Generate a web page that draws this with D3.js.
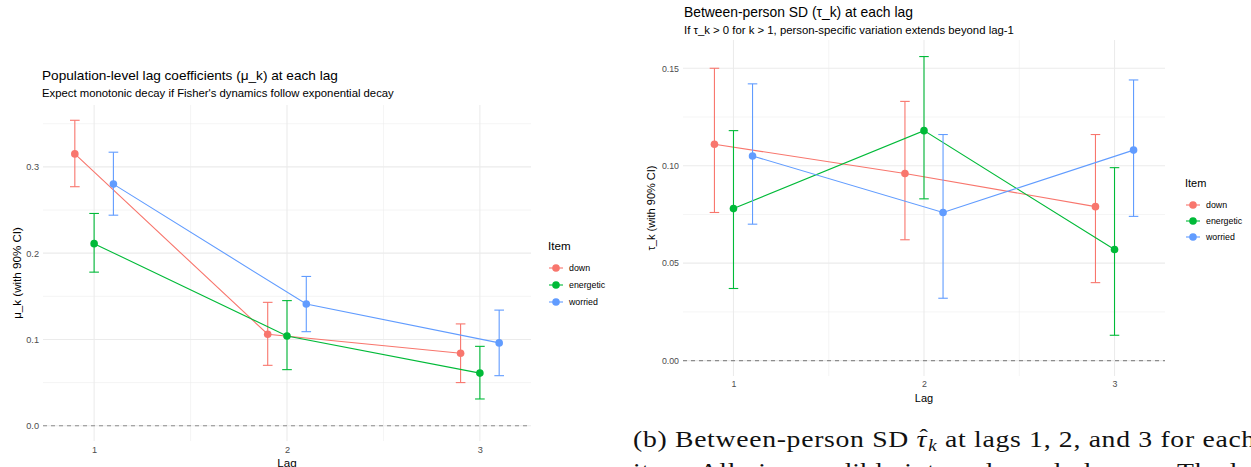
<!DOCTYPE html>
<html>
<head>
<meta charset="utf-8">
<script src="https://cdn.jsdelivr.net/npm/d3@7"></script>
<style>
  html, body { margin: 0; padding: 0; background: #fff; }
  svg { display: block; }
  text { font-family: "Liberation Sans", Arial, sans-serif; }
</style>
</head>
<body>
<svg id="chart" width="1251" height="467"></svg>
<script>
// ---------------- DATA ----------------
const lags = [1, 2, 3];
const items = ["down", "energetic", "worried"];
const itemColors = ["#F8766D", "#00BA38", "#619CFF"];
const itemDodge = [-0.1, 0, 0.1];

// Panel (a): population-level lag coefficients mu_k  (rows = items, cols = lags)
const muMid = [[0.315, 0.106, 0.084], [0.211, 0.104, 0.061], [0.280, 0.141, 0.096]];
const muLo  = [[0.277, 0.070, 0.050], [0.178, 0.065, 0.031], [0.244, 0.109, 0.058]];
const muHi  = [[0.354, 0.143, 0.118], [0.246, 0.145, 0.092], [0.317, 0.173, 0.134]];
const muTicks = [0.0, 0.1, 0.2, 0.3];
const muMinor = [0.05, 0.15, 0.25, 0.35];

// Panel (b): between-person SD tau_k
const tauMid = [[0.111, 0.096, 0.079], [0.078, 0.118, 0.057], [0.105, 0.076, 0.108]];
const tauLo  = [[0.076, 0.062, 0.040], [0.037, 0.083, 0.013], [0.070, 0.032, 0.074]];
const tauHi  = [[0.150, 0.133, 0.116], [0.118, 0.156, 0.099], [0.142, 0.116, 0.144]];
const tauTicks = [0.00, 0.05, 0.10, 0.15];
const tauMinor = [0.025, 0.075, 0.125];

const lagMinor = [1.5, 2.5];

// ---------------- DRAW ----------------
const svg = d3.select("#chart");

// scale a text's font size so it spans a target width
function fitWidth(sel, target) {
  const w = sel.node().getComputedTextLength();
  const fs = parseFloat(sel.style("font-size"));
  if (w > 0) sel.style("font-size", (fs * target / w).toFixed(2) + "px");
}

function panel(cfg) {
  const g = svg.append("g");
  const x = d3.scaleLinear().domain([0.735, 3.265]).range([cfg.left, cfg.right]);
  const y = d3.scaleLinear().domain(cfg.yDomain).range([cfg.bottom, cfg.top]);

  // grid
  g.selectAll(".hminor").data(cfg.minor).enter().append("line")
    .attr("x1", cfg.left).attr("x2", cfg.right)
    .attr("y1", d => y(d)).attr("y2", d => y(d))
    .attr("stroke", "#EBEBEB").attr("stroke-width", 0.55);
  g.selectAll(".vminor").data(lagMinor).enter().append("line")
    .attr("x1", d => x(d)).attr("x2", d => x(d))
    .attr("y1", cfg.top).attr("y2", cfg.bottom)
    .attr("stroke", "#EBEBEB").attr("stroke-width", 0.55);
  g.selectAll(".hmajor").data(cfg.ticks).enter().append("line")
    .attr("x1", cfg.left).attr("x2", cfg.right)
    .attr("y1", d => y(d)).attr("y2", d => y(d))
    .attr("stroke", "#EBEBEB").attr("stroke-width", 1.07);
  g.selectAll(".vmajor").data(lags).enter().append("line")
    .attr("x1", d => x(d)).attr("x2", d => x(d))
    .attr("y1", cfg.top).attr("y2", cfg.bottom)
    .attr("stroke", "#EBEBEB").attr("stroke-width", 1.07);

  // zero dashed line
  g.append("line")
    .attr("x1", cfg.left).attr("x2", cfg.right)
    .attr("y1", y(0)).attr("y2", y(0))
    .attr("stroke", "#8C8C8C").attr("stroke-width", 1.07)
    .attr("stroke-dasharray", "4,4");

  // axes (text only, theme_minimal)
  const yAxis = d3.axisLeft(y).tickValues(cfg.ticks).tickFormat(cfg.fmt).tickSize(0).tickPadding(4);
  const ya = g.append("g").attr("transform", `translate(${cfg.left},0)`).call(yAxis);
  ya.select(".domain").remove();
  ya.selectAll("text").attr("fill", "#4D4D4D").style("font-size", cfg.tickFs + "px")
    .style("font-family", '"Liberation Sans", Arial, sans-serif');

  const xAxis = d3.axisBottom(x).tickValues(lags).tickFormat(d3.format("d")).tickSize(0).tickPadding(5);
  const xa = g.append("g").attr("transform", `translate(0,${cfg.bottom})`).call(xAxis);
  xa.select(".domain").remove();
  xa.selectAll("text").attr("fill", "#4D4D4D").style("font-size", cfg.tickFs + "px")
    .style("font-family", '"Liberation Sans", Arial, sans-serif');

  // series
  items.forEach((it, i) => {
    const col = itemColors[i];
    const pts = lags.map((l, j) => ({ x: l + itemDodge[i], m: cfg.mid[i][j], lo: cfg.lo[i][j], hi: cfg.hi[i][j] }));
    const sg = g.append("g");
    const cap = 0.025;
    pts.forEach(p => {
      sg.append("line").attr("x1", x(p.x)).attr("x2", x(p.x)).attr("y1", y(p.lo)).attr("y2", y(p.hi))
        .attr("stroke", col).attr("stroke-width", 1.1);
      sg.append("line").attr("x1", x(p.x - cap)).attr("x2", x(p.x + cap)).attr("y1", y(p.lo)).attr("y2", y(p.lo))
        .attr("stroke", col).attr("stroke-width", 1.1);
      sg.append("line").attr("x1", x(p.x - cap)).attr("x2", x(p.x + cap)).attr("y1", y(p.hi)).attr("y2", y(p.hi))
        .attr("stroke", col).attr("stroke-width", 1.1);
    });
    sg.append("path").datum(pts)
      .attr("d", d3.line().x(p => x(p.x)).y(p => y(p.m)))
      .attr("fill", "none").attr("stroke", col).attr("stroke-width", 1.1);
    sg.selectAll("circle").data(pts).enter().append("circle")
      .attr("cx", p => x(p.x)).attr("cy", p => y(p.m)).attr("r", 3.8).attr("fill", col);
  });

  // titles
  const t = g.append("text").attr("x", cfg.titleX).attr("y", cfg.titleY)
    .style("font-size", "12.5px").attr("fill", "#000").text(cfg.title);
  fitWidth(t, cfg.titleW);
  const st = g.append("text").attr("x", cfg.titleX).attr("y", cfg.titleY + 17)
    .style("font-size", "10px").attr("fill", "#000").text(cfg.subtitle);
  fitWidth(st, cfg.subtitleW);

  // axis titles
  g.append("text").attr("x", (cfg.left + cfg.right) / 2).attr("y", cfg.lagY)
    .attr("text-anchor", "middle").style("font-size", cfg.axisFs + "px").attr("fill", "#000").text("Lag");
  g.append("text")
    .attr("transform", `translate(${cfg.yTitleX},${(cfg.top + cfg.bottom) / 2}) rotate(-90)`)
    .attr("text-anchor", "middle").style("font-size", cfg.axisFs + "px").attr("fill", "#000").text(cfg.yTitle);

  // legend
  const lg = g.append("g");
  lg.append("text").attr("x", cfg.legX - 8).attr("y", cfg.legY)
    .style("font-size", cfg.axisFs + "px").attr("fill", "#000").text("Item");
  items.forEach((it, i) => {
    const yy = cfg.legY + 18 + i * cfg.legStep;
    lg.append("line").attr("x1", cfg.legX - 7).attr("x2", cfg.legX + 7).attr("y1", yy).attr("y2", yy)
      .attr("stroke", itemColors[i]).attr("stroke-width", 1.1);
    lg.append("circle").attr("cx", cfg.legX).attr("cy", yy).attr("r", 3.8).attr("fill", itemColors[i]);
    lg.append("text").attr("x", cfg.legX + 13).attr("y", yy + 3)
      .style("font-size", "8.8px").attr("fill", "#000").text(it);
  });
}

panel({
  left: 43, right: 531, top: 105, bottom: 441,
  yDomain: [-0.0177, 0.3717],
  ticks: muTicks, minor: muMinor, fmt: d3.format(".1f"),
  mid: muMid, lo: muLo, hi: muHi,
  title: "Population-level lag coefficients (\u03bc_k) at each lag",
  subtitle: "Expect monotonic decay if Fisher's dynamics follow exponential decay",
  titleX: 42, titleY: 80, titleW: 296, subtitleW: 352,
  tickFs: 9.2, axisFs: 11.6,
  lagY: 467, yTitleX: 21, yTitle: "\u03bc_k (with 90% CI)",
  legX: 556, legY: 250, legStep: 17
});

panel({
  left: 683, right: 1165, top: 40, bottom: 376,
  yDomain: [-0.0079, 0.1645],
  ticks: tauTicks, minor: tauMinor, fmt: d3.format(".2f"),
  mid: tauMid, lo: tauLo, hi: tauHi,
  title: "Between-person SD (\u03c4_k) at each lag",
  subtitle: "If \u03c4_k > 0 for k > 1, person-specific variation extends beyond lag-1",
  titleX: 684, titleY: 17, titleW: 229, subtitleW: 330,
  tickFs: 8.8, axisFs: 11,
  lagY: 402, yTitleX: 655, yTitle: "\u03c4_k (with 90% CI)",
  legX: 1193, legY: 187, legStep: 16
});

// caption (b)
const serif = '"Liberation Serif", "DejaVu Serif", serif';
const capG = svg.append("g");
const cap = capG.append("text").attr("x", 0).attr("y", 447)
  .style("font-family", serif).style("font-size", "24px").attr("fill", "#111")
  .style("letter-spacing", "0.6px");
cap.append("tspan").text("(b) Between-person SD ");
cap.append("tspan").style("font-style", "italic").text("\u03c4");
cap.append("tspan").attr("dy", 4).attr("dx", 1).style("font-size", "16.5px").style("font-style", "italic").text("k");
cap.append("tspan").attr("dy", -4).text(" at lags 1, 2, and 3 for each");
capG.append("text").attr("x", 0).attr("y", 479)
  .style("font-family", serif).style("font-size", "24px").attr("fill", "#111")
  .style("letter-spacing", "0.6px")
  .text("item. All nine credible intervals exclude zero. The lower");
// hat over tau
const capNode = cap.node();
const tauIdx = "(b) Between-person SD ".length;
const tauStart = capNode.getStartPositionOfChar(tauIdx);
const tauEnd = capNode.getEndPositionOfChar(tauIdx);
capG.append("text").attr("x", (tauStart.x + tauEnd.x) / 2 + 1.5).attr("y", 444)
  .attr("text-anchor", "middle")
  .style("font-family", serif).style("font-size", "22px").attr("fill", "#111").text("\u02c6");
// widen to match Computer Modern set width
const capW = capNode.getComputedTextLength();
const sx = 622 / capW;
capG.attr("transform", `translate(633,0) scale(${sx.toFixed(4)},1)`);
</script>
</body>
</html>
